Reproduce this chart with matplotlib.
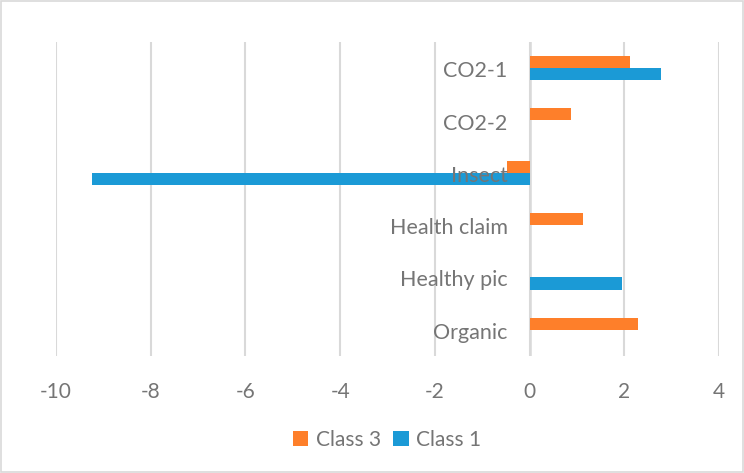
import matplotlib
matplotlib.use("Agg")
import matplotlib.pyplot as plt
import numpy as np
from matplotlib.patches import Rectangle

categories = ["CO2-1", "CO2-2", "Insect", "Health claim", "Healthy pic", "Organic"]
class3 = [2.13, 0.88, -0.47, 1.13, 0.0, 2.28]
class1 = [2.77, 0.0, -9.24, 0.0, 1.95, 0.0]
xticks = [-10, -8, -6, -4, -2, 0, 2, 4]

orange = "#FE7F2A"
blue = "#1B9AD6"
grey_text = "#757575"
grid_col = "#D9D9D9"
font = "Lato"

fig = plt.figure(figsize=(7.44, 4.73), dpi=100)
ax = fig.add_axes([56/744, 1 - 356/473, (719-56)/744, (356-42)/473])

y = np.arange(len(categories))
h = 0.235
ax.barh(y - h/2, class3, height=h, color=orange, label="Class 3", zorder=2)
ax.barh(y + h/2, class1, height=h, color=blue, label="Class 1", zorder=2)

ax.set_xlim(-10, 4)
ax.set_ylim(len(categories) - 0.5, -0.5)
ax.set_xticks(xticks)
ax.set_xticklabels([str(t) for t in xticks], fontfamily=font, fontsize=15, color=grey_text)
ax.tick_params(axis="x", length=0, pad=19)
ax.set_yticks([])
ax.grid(axis="x", color=grid_col, linewidth=1.5, zorder=0)
ax.axvline(0, color=grid_col, linewidth=1.8, zorder=1)
for s in ax.spines.values():
    s.set_visible(False)

for yi, cat in zip(y, categories):
    ax.annotate(cat, xy=(0, yi), xytext=(-22, -3), textcoords="offset pixels",
                ha="right", va="center", fontfamily=font, fontsize=15.5,
                color=grey_text, zorder=5)

leg = fig.legend(loc="center", bbox_to_anchor=(387/744, 1 - 440/473), ncol=2,
                 frameon=False, prop={"family": font, "size": 15},
                 handlelength=0.75, handleheight=0.75, handletextpad=0.35,
                 columnspacing=0.6)
for t in leg.get_texts():
    t.set_color(grey_text)

fig.patches.append(Rectangle((0.002, 0.002), 0.996, 0.996, transform=fig.transFigure,
                             fill=False, edgecolor=grid_col, linewidth=1.2))

fig.savefig("out.png", dpi=100)
